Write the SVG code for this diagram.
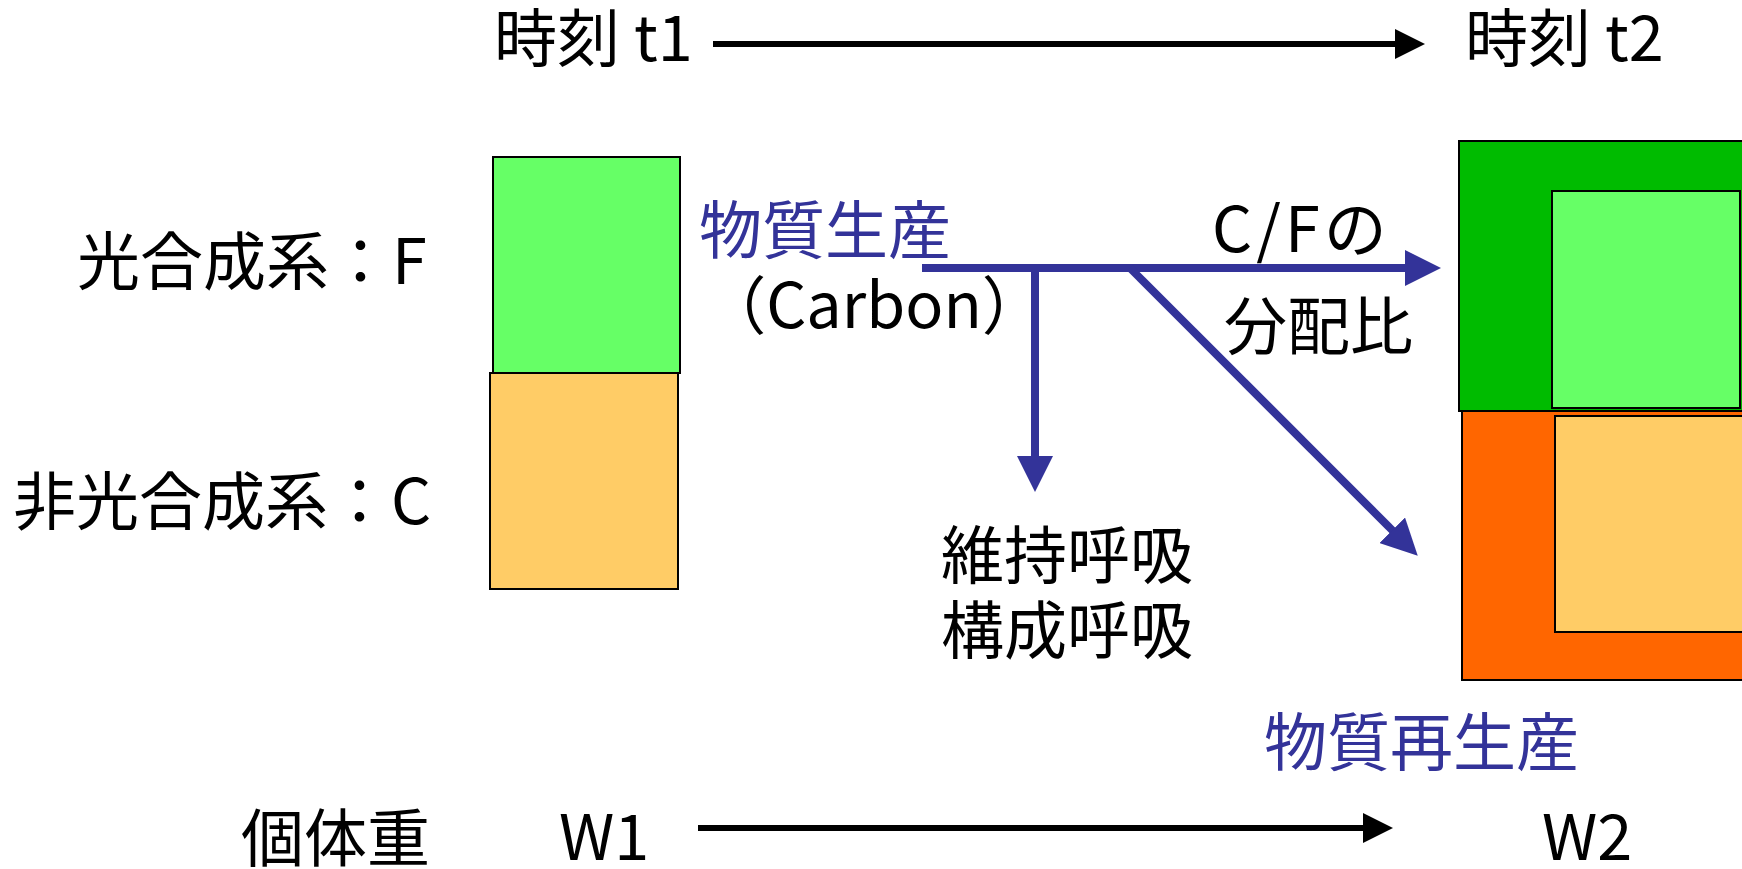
<svg xmlns="http://www.w3.org/2000/svg" width="1742" height="869" viewBox="0 0 1742 869">
<style>
text{font-family:"Noto Sans CJK JP","Noto Sans",sans-serif;font-size:63px;fill:#000}
.blue{fill:#333399}
.box{stroke:#000;stroke-width:2}
.bl{stroke:#333399;stroke-width:8;fill:none}
.bk{stroke:#000;stroke-width:6;fill:none}
</style>
<defs>
<marker id="hb" viewBox="0 0 36 36" markerWidth="36" markerHeight="36" refX="1" refY="18" orient="auto" markerUnits="userSpaceOnUse"><path d="M0,0 L36,18 L0,36 z" fill="#333399"/></marker>
<marker id="hk" viewBox="0 0 30 30" markerWidth="30" markerHeight="30" refX="1" refY="15" orient="auto" markerUnits="userSpaceOnUse"><path d="M0,0 L30,15 L0,30 z" fill="#000"/></marker>
</defs>
<rect width="1742" height="869" fill="#fff"/>
<g id="time-labels">
<text x="494" y="61">時刻 t1</text>
<text x="1465" y="61">時刻 t2</text>
</g>
<g id="left-F">
<rect class="box" x="493" y="157" width="187" height="216" fill="#66FF66"/>
<text x="77" y="284">光合成系：F</text>
</g>
<g id="left-C">
<rect class="box" x="490" y="373" width="188" height="216" fill="#FFCC66"/>
<text x="13" y="524">非光合成系：C</text>
</g>
<g id="right-F">
<rect class="box" x="1459" y="141" width="300" height="270" fill="#00BB00"/>
<rect class="box" x="1552" y="191" width="188" height="217" fill="#66FF66"/>
</g>
<g id="right-C">
<rect class="box" x="1462" y="411" width="300" height="269" fill="#FF6600"/>
<rect class="box" x="1555" y="416" width="200" height="216" fill="#FFCC66"/>
</g>
<g id="production">
<text class="blue" x="699" y="253">物質生産</text>
<text x="874" y="328" text-anchor="middle">（Carbon）</text>
</g>
<g id="ratio">
<text x="1212" y="252" letter-spacing="4">C/Fの</text>
<text x="1224" y="349">分配比</text>
</g>
<g id="respiration">
<text x="941" y="578">維持呼吸</text>
<text x="941" y="653">構成呼吸</text>
</g>
<g id="reproduction">
<text class="blue" x="1264" y="765">物質再生産</text>
</g>
<g id="weight">
<text x="241" y="861">個体重</text>
<text x="559" y="860">W1</text>
<text x="1542" y="860">W2</text>
</g>
<g id="connectors">
<line class="bk" x1="713" y1="44" x2="1396" y2="44" marker-end="url(#hk)"/>
<line class="bk" x1="698" y1="828" x2="1364" y2="828" marker-end="url(#hk)"/>
<line class="bl" x1="922" y1="268" x2="1406" y2="268" marker-end="url(#hb)"/>
<line class="bl" x1="1035" y1="268" x2="1035" y2="457" marker-end="url(#hb)"/>
<line class="bl" x1="1130" y1="268" x2="1393" y2="531" marker-end="url(#hb)"/>
</g>
</svg>
